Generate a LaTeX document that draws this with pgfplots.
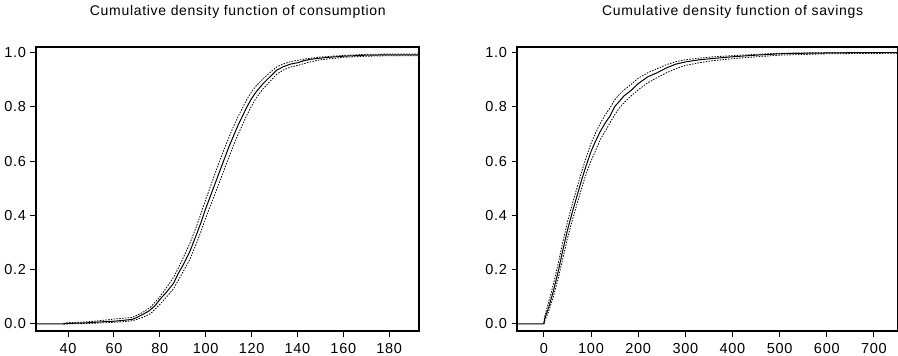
\documentclass[border=0pt]{standalone}
\usepackage{fontspec}
\setmainfont{Liberation Sans}[LetterSpace=5]
\usepackage{pgfplots}
\pgfplotsset{compat=1.18}
\usepackage{pgfplotstable}

\pgfplotstableread{
x y
26 0
38 0
40 0.002
45 0.003
50 0.005
55 0.008
60 0.010
65 0.014
68 0.017
70 0.024
72 0.033
75 0.046
78 0.068
80 0.090
83 0.118
86 0.150
88 0.185
90 0.215
93 0.265
96 0.330
98 0.375
100 0.425
102 0.470
104 0.515
106 0.560
108 0.605
110 0.650
112 0.690
114 0.730
116 0.765
118 0.800
120 0.830
122 0.855
125 0.885
128 0.910
131 0.935
134 0.948
137 0.957
140 0.962
143 0.970
146 0.975
150 0.979
155 0.983
160 0.986
165 0.988
170 0.990
180 0.991
193 0.991
}\consmid

\pgfplotstableread{
x y
38 0.002
40 0.005
45 0.006
50 0.009
55 0.013
60 0.018
65 0.022
68 0.024
70 0.032
73 0.045
76 0.062
80 0.100
83 0.135
86 0.172
88 0.205
90 0.240
93 0.295
96 0.360
98 0.408
100 0.458
102 0.505
104 0.552
106 0.598
108 0.642
110 0.685
112 0.725
114 0.762
116 0.795
118 0.828
120 0.855
122 0.877
125 0.903
128 0.926
131 0.947
134 0.958
137 0.966
140 0.971
145 0.978
150 0.983
160 0.989
170 0.993
180 0.994
193 0.994
}\consup

\pgfplotstableread{
x y
38 0
45 0.001
50 0.002
55 0.004
60 0.006
65 0.009
68 0.012
70 0.017
73 0.026
76 0.038
80 0.072
83 0.100
86 0.130
88 0.160
90 0.190
93 0.236
96 0.298
98 0.342
100 0.390
102 0.435
104 0.478
106 0.522
108 0.567
110 0.612
112 0.654
114 0.696
116 0.733
118 0.770
120 0.803
122 0.832
125 0.866
128 0.893
131 0.920
134 0.936
137 0.946
140 0.952
145 0.964
150 0.973
160 0.982
170 0.986
180 0.988
193 0.988
}\conslo

\pgfplotstableread{
x y
-57 0
0 0
2 0.02
10 0.06
20 0.12
30 0.19
40 0.27
50 0.345
60 0.41
70 0.47
80 0.53
90 0.585
100 0.635
110 0.675
120 0.71
130 0.74
140 0.765
150 0.80
160 0.82
170 0.84
185 0.86
200 0.885
220 0.91
240 0.925
260 0.943
280 0.957
300 0.965
330 0.973
360 0.978
400 0.984
450 0.990
500 0.995
550 0.997
600 0.998
650 0.999
751 0.999
}\savmid

\pgfplotstableread{
x y
0 0.005
2 0.03
10 0.08
20 0.145
30 0.22
40 0.30
50 0.375
60 0.44
70 0.50
80 0.56
90 0.615
100 0.665
110 0.705
120 0.74
130 0.77
140 0.795
150 0.825
160 0.845
170 0.862
185 0.882
200 0.905
220 0.925
240 0.94
260 0.955
280 0.966
300 0.973
330 0.979
360 0.984
400 0.988
450 0.993
500 0.997
600 0.999
751 1.0
}\savup

\pgfplotstableread{
x y
0 0
2 0.012
10 0.045
20 0.10
30 0.165
40 0.24
50 0.315
60 0.38
70 0.44
80 0.50
90 0.555
100 0.60
110 0.64
120 0.68
130 0.71
140 0.74
150 0.77
160 0.795
170 0.815
185 0.84
200 0.862
220 0.888
240 0.907
260 0.925
280 0.94
300 0.952
330 0.962
360 0.97
400 0.977
450 0.984
500 0.990
600 0.995
751 0.997
}\savlo

\pgfplotsset{
  cdfaxis/.style={
    scale only axis,
    height=284pt,
    ymin=-0.026, ymax=1.02,
    ytick={0,0.2,0.4,0.6,0.8,1.0},
    yticklabel style={/pgf/number format/fixed,/pgf/number format/precision=1,/pgf/number format/fixed zerofill},
    /pgf/number format/assume math mode=true,
    tick pos=left,
    tick align=outside,
    major tick length=5.5pt,
    tick style={black, line width=1pt},
    axis line style={line width=1.2pt},
    ticklabel style={font=\fontsize{14.5}{16}\selectfont},
    yticklabel style={xshift=-1pt},
    xticklabel style={yshift=-3.5pt},
    title style={font=\fontsize{14}{16}\selectfont, anchor=base, yshift=26pt},
    clip=true,
  },
  mid/.style={black, line width=1pt},
  band/.style={black, line width=0.8pt, dash pattern=on 1.5pt off 1.3pt},
}

\begin{document}
\begin{tikzpicture}
\useasboundingbox (0,0) rectangle (898pt,-356pt);
\begin{axis}[cdfaxis,
  at={(36pt,-47pt)}, anchor=north west,
  width=383pt,
  xmin=26, xmax=193,
  xtick={40,60,...,180},
  title={Cumulative density function of consumption},
  title style={at={(axis description cs:0.527,1)}},
]
\addplot[mid] table {\consmid};
\addplot[band] table {\consup};
\addplot[band] table {\conslo};
\end{axis}
\begin{axis}[cdfaxis,
  at={(517pt,-47pt)}, anchor=north west,
  width=381pt,
  xmin=-57, xmax=751,
  xtick={0,100,...,700},
  title={Cumulative density function of savings},
  title style={at={(axis description cs:0.566,1)}},
]
\addplot[mid] table {\savmid};
\addplot[band] table {\savup};
\addplot[band] table {\savlo};
\end{axis}
\end{tikzpicture}
\end{document}
